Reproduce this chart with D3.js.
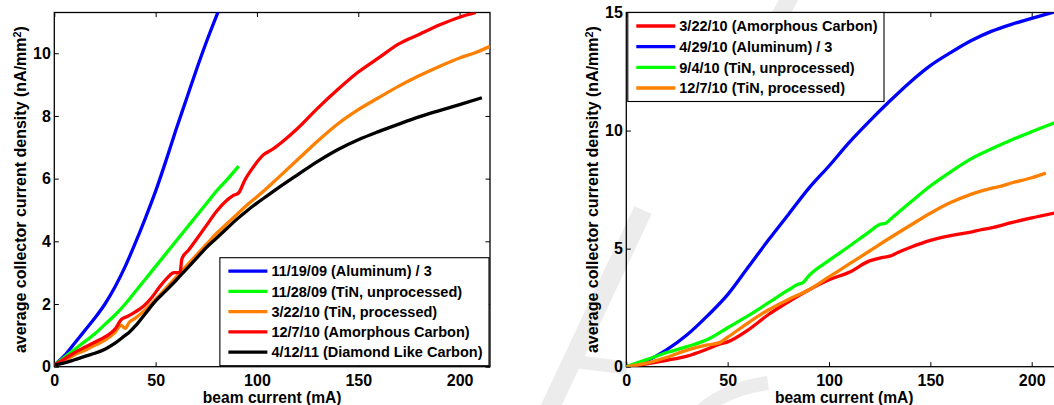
<!DOCTYPE html>
<html>
<head>
<meta charset="utf-8">
<script src="https://cdn.jsdelivr.net/npm/d3@7"></script>
<style>
  html, body { margin: 0; padding: 0; background: #fff; }
  svg { display: block; }
  text { font-family: "Liberation Sans", Arial, Helvetica, sans-serif; font-weight: bold; fill: #000; }
</style>
</head>
<body>
<svg id="fig" width="1054" height="405"></svg>
<script>
// ---- Left panel: collector current density vs beam current, [mA, nA/mm^2] ----
const alum111909 = [[0,0.05],[5,0.35],[10,0.75],[15,1.15],[20,1.55],[25,2.0],[30,2.55],[35,3.2],[40,3.95],[45,4.75],[50,5.6],[55,6.55],[60,7.55],[65,8.5],[70,9.45],[75,10.35],[81,11.35]];
const tinUnproc112809 = [[0,0.05],[5,0.3],[10,0.55],[15,0.8],[20,1.05],[25,1.35],[30,1.65],[35,2.0],[40,2.4],[45,2.8],[50,3.2],[55,3.6],[60,4.0],[65,4.4],[70,4.8],[75,5.2],[80,5.6],[85,5.95],[91,6.4]];
const tinProc032210 = [[0,0.05],[5,0.2],[10,0.38],[15,0.52],[20,0.68],[25,0.85],[30,1.1],[33,1.32],[35,1.22],[37,1.42],[40,1.55],[45,1.82],[50,2.15],[55,2.5],[60,2.85],[65,3.2],[70,3.55],[75,3.9],[80,4.25],[85,4.55],[90,4.85],[95,5.15],[100,5.42],[105,5.7],[110,6.0],[120,6.6],[130,7.2],[140,7.75],[150,8.2],[160,8.58],[170,8.95],[180,9.28],[190,9.58],[200,9.85],[207,10.0],[215,10.22]];
const amCarbon120710 = [[0,0.05],[5,0.25],[10,0.45],[15,0.62],[20,0.78],[25,0.95],[30,1.2],[33,1.5],[36,1.6],[40,1.75],[44,1.93],[48,2.2],[52,2.55],[56,2.85],[59,3.0],[62,3.0],[63,3.45],[66,3.7],[70,4.05],[75,4.5],[80,4.95],[85,5.3],[88,5.45],[91,5.55],[94,5.95],[98,6.35],[103,6.75],[108,6.95],[113,7.2],[120,7.6],[130,8.25],[140,8.85],[150,9.4],[160,9.85],[170,10.3],[180,10.6],[190,10.9],[200,11.15],[208,11.3]];
const dlc041211 = [[0,0.05],[5,0.12],[10,0.22],[15,0.33],[20,0.43],[25,0.56],[30,0.75],[35,1.0],[37,1.1],[40,1.3],[45,1.7],[50,2.1],[55,2.42],[60,2.75],[65,3.1],[70,3.45],[75,3.8],[80,4.1],[85,4.4],[90,4.7],[95,4.97],[100,5.22],[105,5.45],[110,5.68],[120,6.12],[130,6.55],[140,6.93],[150,7.24],[160,7.5],[170,7.74],[180,7.97],[190,8.17],[200,8.36],[211,8.58]];
const leftLabels = ["11/19/09 (Aluminum) / 3", "11/28/09 (TiN, unprocessed)", "3/22/10 (TiN, processed)", "12/7/10 (Amorphous Carbon)", "4/12/11 (Diamond Like Carbon)"];
const leftXTicks = [0, 50, 100, 150, 200];
const leftYTicks = [0, 2, 4, 6, 8, 10];

// ---- Right panel ----
const amCarbon032210 = [[0,0],[10,0.12],[20,0.27],[30,0.45],[40,0.75],[46,0.95],[50,1.05],[60,1.55],[70,2.2],[80,2.75],[90,3.25],[100,3.68],[110,4.0],[120,4.48],[126,4.62],[130,4.68],[134,4.84],[140,5.05],[150,5.35],[160,5.55],[170,5.7],[175,5.8],[180,5.88],[190,6.1],[200,6.3],[212,6.52]];
const alum042910 = [[0,0],[10,0.25],[20,0.72],[30,1.35],[40,2.15],[50,3.05],[60,4.2],[70,5.35],[80,6.45],[90,7.55],[100,8.5],[110,9.5],[120,10.4],[130,11.25],[140,12.05],[150,12.75],[160,13.3],[170,13.8],[180,14.2],[190,14.5],[200,14.75],[212,15.05]];
const tinUnproc090410 = [[0,0],[10,0.3],[20,0.6],[30,0.85],[40,1.15],[50,1.65],[60,2.15],[70,2.7],[80,3.25],[85,3.5],[87,3.55],[90,3.85],[100,4.5],[110,5.1],[120,5.72],[125,6.02],[128,6.08],[131,6.3],[140,6.95],[150,7.65],[160,8.25],[170,8.8],[180,9.22],[190,9.6],[200,9.95],[212,10.35]];
const tinProc120710 = [[0,0],[10,0.15],[20,0.4],[30,0.7],[40,0.92],[46,1.02],[50,1.25],[60,1.85],[70,2.4],[80,2.85],[85,3.05],[90,3.25],[100,3.8],[110,4.35],[120,4.9],[130,5.45],[140,5.98],[150,6.5],[160,6.95],[170,7.3],[180,7.55],[185,7.65],[190,7.78],[200,8.0],[207,8.2]];
const rightLabels = ["3/22/10 (Amorphous Carbon)", "4/29/10 (Aluminum) / 3", "9/4/10 (TiN, unprocessed)", "12/7/10 (TiN, processed)"];
const rightXTicks = [0, 50, 100, 150, 200];
const rightYTicks = [0, 5, 10, 15];

const BLUE = "#0000ff", GREEN = "#00ff00", ORANGE = "#ff8000", RED = "#ff0000", BLACK = "#000000";

const svg = d3.select("#fig");

// faint background stamp behind the right figure
const stamp = svg.append("g").attr("fill", "none").attr("stroke", "#ececec").attr("stroke-linecap", "butt");
stamp.append("path").attr("d", "M549,410 L643,210").attr("stroke-width", 19);
stamp.append("path").attr("d", "M570,361 L627,368").attr("stroke-width", 13);
stamp.append("path").attr("d", "M702,410 Q728,388 768,383").attr("stroke-width", 14);
stamp.append("path").attr("d", "M792,-6 L767,38").attr("stroke-width", 17);

function drawPanel(p) {
  const g = svg.append("g");
  const x = d3.scaleLinear().domain([0, p.xMax]).range([p.x0, p.x1]);
  const y = d3.scaleLinear().domain([0, p.yMax]).range([p.y0, p.y1]);
  const clipId = "clip" + p.id;
  g.append("clipPath").attr("id", clipId).append("rect")
    .attr("x", p.x0).attr("y", p.y1).attr("width", p.x1 - p.x0).attr("height", p.y0 - p.y1);

  const styleAxis = sel => {
    sel.select(".domain").remove();
    sel.selectAll(".tick line").attr("stroke", "#000").attr("stroke-width", 1);
    sel.selectAll("text").attr("font-size", 16).attr("font-weight", "bold")
      .attr("font-family", '"Liberation Sans", Arial, Helvetica, sans-serif').attr("fill", "#000");
    sel.attr("font-family", null).attr("font-size", null);
  };
  const tk = 4.5;
  g.append("g").attr("transform", `translate(0,${p.y0})`)
    .call(d3.axisBottom(x).tickValues(p.xTicks).tickSizeInner(-tk).tickSizeOuter(0).tickPadding(7.5)).call(styleAxis);
  g.append("g").attr("transform", `translate(0,${p.y1})`)
    .call(d3.axisTop(x).tickValues(p.xTicks).tickSizeInner(-tk).tickSizeOuter(0).tickFormat("")).call(styleAxis);
  g.append("g").attr("transform", `translate(${p.x0},0)`)
    .call(d3.axisLeft(y).tickValues(p.yTicks).tickSizeInner(-tk).tickSizeOuter(0).tickPadding(3.5)).call(styleAxis);
  g.append("g").attr("transform", `translate(${p.x1},0)`)
    .call(d3.axisRight(y).tickValues(p.yTicks).tickSizeInner(-tk).tickSizeOuter(0).tickFormat("")).call(styleAxis);

  g.append("rect").attr("x", p.x0).attr("y", p.y1).attr("width", p.x1 - p.x0).attr("height", p.y0 - p.y1)
    .attr("fill", "none").attr("stroke", "#000").attr("stroke-width", 1.3);

  const line = d3.line().x(d => x(d[0])).y(d => y(d[1])).curve(d3.curveMonotoneX);
  const lines = g.append("g").attr("clip-path", `url(#${clipId})`);
  p.series.forEach((s, i) => {
    lines.append("path").attr("d", line(s)).attr("fill", "none")
      .attr("stroke", p.colors[i]).attr("stroke-width", 3.3)
      .attr("stroke-linejoin", "round").attr("stroke-linecap", "butt");
  });

  // axis titles
  g.append("text").attr("x", (p.x0 + p.x1) / 2).attr("y", p.y0 + 36)
    .attr("text-anchor", "middle").attr("font-size", 15.6).text("beam current (mA)");
  const yl = g.append("text").attr("transform", `translate(${p.x0 - 28.5},${(p.y0 + p.y1) / 2}) rotate(-90)`)
    .attr("text-anchor", "middle").attr("font-size", 16);
  yl.append("tspan").text("average collector current density (nA/mm");
  yl.append("tspan").attr("dy", "-0.45em").attr("font-size", "0.68em").text("2");
  yl.append("tspan").attr("dy", "0.3em").text(")");

  // legend
  const lg = g.append("g");
  const box = lg.append("rect").attr("fill", "#fff").attr("stroke", "#000").attr("stroke-width", 1.1);
  const items = lg.append("g");
  let maxW = 0;
  p.labels.forEach((lab, i) => {
    const cy = i * p.legStep;
    items.append("line").attr("x1", 0).attr("x2", 39).attr("y1", cy).attr("y2", cy)
      .attr("stroke", p.colors[i]).attr("stroke-width", 3.3);
    const t = items.append("text").attr("x", 43).attr("y", cy).attr("dy", "0.36em")
      .attr("font-size", 14.5).text(lab);
    maxW = Math.max(maxW, t.node().getComputedTextLength());
  });
  const padL = 8.5, padR = 6.5, padV = 13.5;
  const w = padL + 43 + maxW + padR;
  const h = padV * 2 + (p.labels.length - 1) * p.legStep;
  let bx, by;
  if (p.legend === "se") { bx = p.x1 - 1 - w; by = p.y0 - 1 - h; }
  else { bx = p.x0 + 1.5; by = p.y1; }
  box.attr("x", bx).attr("y", by).attr("width", w).attr("height", h);
  items.attr("transform", `translate(${bx + padL},${by + padV})`);
}

drawPanel({
  id: "L", x0: 54.3, x1: 490, y0: 366.7, y1: 12.5, xMax: 215, yMax: 11.3,
  xTicks: leftXTicks, yTicks: leftYTicks,
  series: [alum111909, tinUnproc112809, tinProc032210, amCarbon120710, dlc041211],
  colors: [BLUE, GREEN, ORANGE, RED, BLACK], labels: leftLabels,
  legend: "se", legStep: 20.25
});

drawPanel({
  id: "R", x0: 626.3, x1: 626.3 + 215 * 2.027, y0: 366.7, y1: 12.5, xMax: 215, yMax: 15,
  xTicks: rightXTicks, yTicks: rightYTicks,
  series: [amCarbon032210, alum042910, tinUnproc090410, tinProc120710],
  colors: [RED, BLUE, GREEN, ORANGE], labels: rightLabels,
  legend: "nw", legStep: 20.67
});
</script>
</body>
</html>
